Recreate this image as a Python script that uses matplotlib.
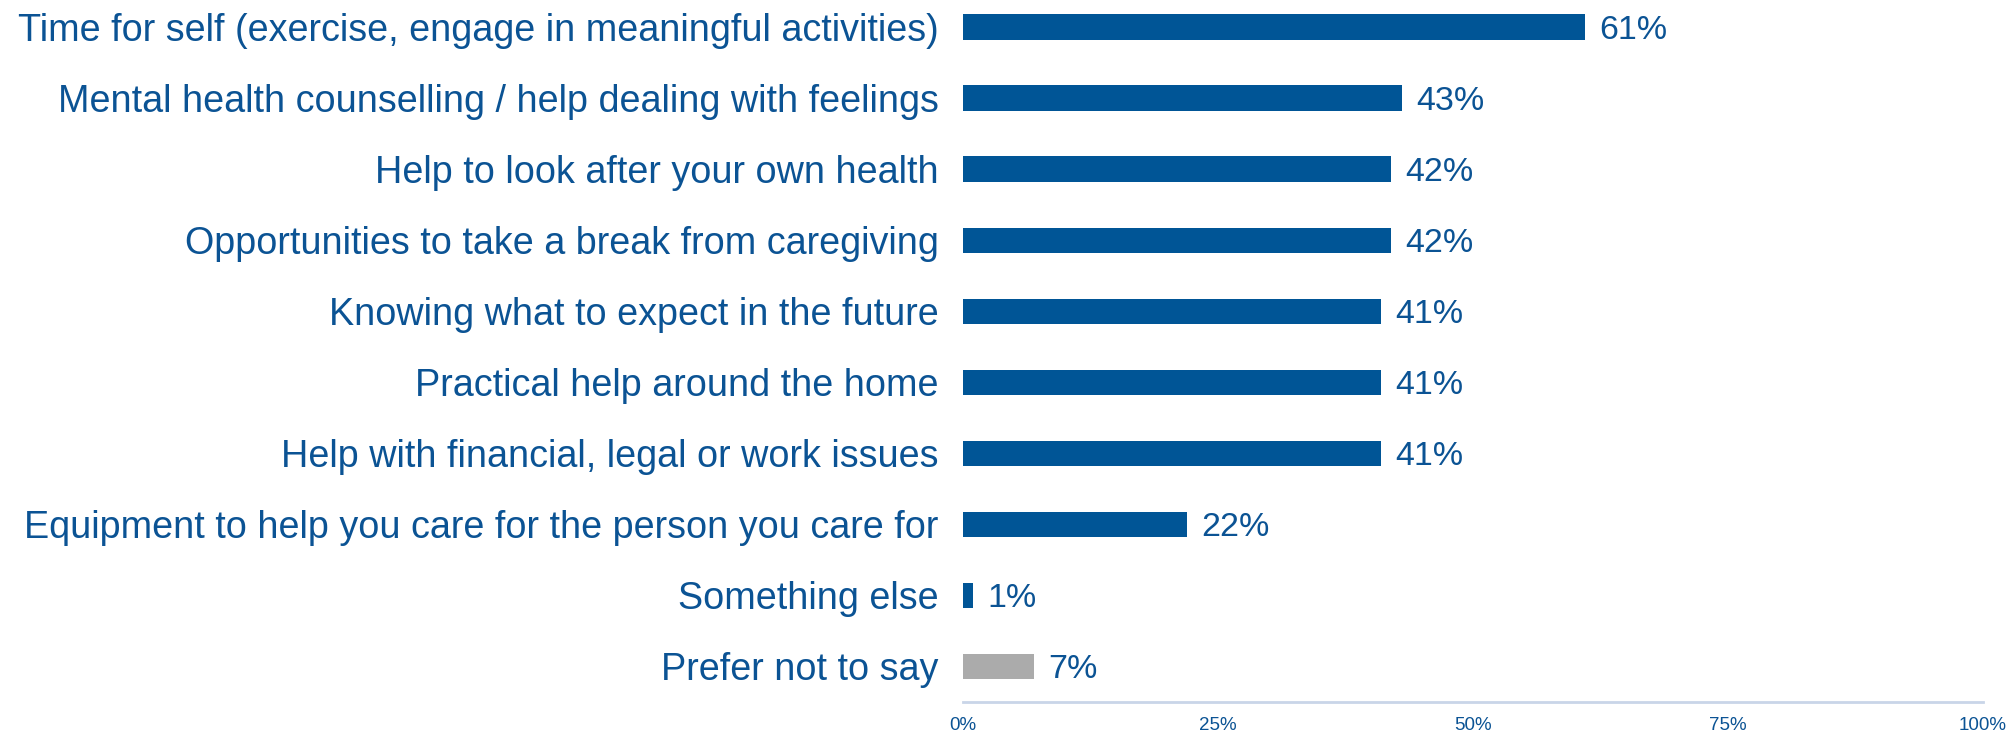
import matplotlib.pyplot as plt
import numpy as np

plt.rcParams['font.family'] = ['Liberation Sans', 'DejaVu Sans']

# Support wanted by carers, % of respondents
categories = [
    'Time for self (exercise, engage in meaningful activities)',
    'Mental health counselling / help dealing with feelings',
    'Help to look after your own health',
    'Opportunities to take a break from caregiving',
    'Knowing what to expect in the future',
    'Practical help around the home',
    'Help with financial, legal or work issues',
    'Equipment to help you care for the person you care for',
    'Something else',
    'Prefer not to say',
]
values = [61, 43, 42, 42, 41, 41, 41, 22, 1, 7]
tick_values = [0, 25, 50, 75, 100]

BLUE = '#005596'
GREY = '#ABABAB'
TEXT = '#0B5394'

colors = [GREY if c == 'Prefer not to say' else BLUE for c in categories]

fig = plt.figure(figsize=(20.10, 7.32), dpi=100)
ax = fig.add_axes([0.4791, 0.041, 0.5075, 0.97])

y = np.arange(len(categories))
ax.barh(y, values, height=0.365, color=colors)

for yi, v in zip(y, values):
    ax.text(v + 1.4, yi, f'{v}%', va='center_baseline', ha='left',
            fontsize=24.5, color=TEXT)

ax.set_ylim(len(categories) - 0.5, -0.5)
ax.set_xlim(0, 100)

ax.set_yticks(y)
ax.set_yticklabels(categories, fontsize=27.2, color=TEXT)
ax.tick_params(axis='y', length=0, pad=17.5)

ax.set_xticks(tick_values)
ax.set_xticklabels([f'{t}%' for t in tick_values], fontsize=13.5, color=TEXT)
ax.tick_params(axis='x', length=0, pad=11)

for side in ['top', 'right', 'left']:
    ax.spines[side].set_visible(False)
ax.spines['bottom'].set_color('#C9D5E8')
ax.spines['bottom'].set_linewidth(2)

fig.set_facecolor('#FFFFFF')
plt.savefig('out.png', dpi=100)
